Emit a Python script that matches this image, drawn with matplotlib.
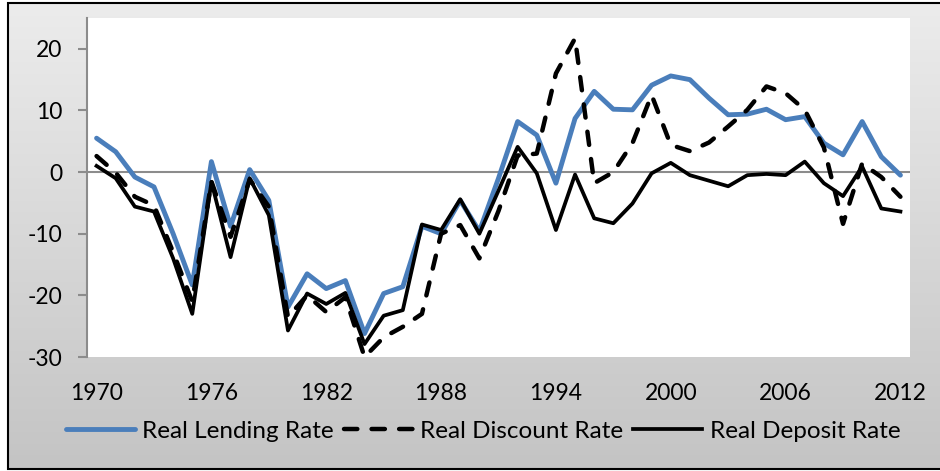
import numpy as np
import matplotlib
matplotlib.use("Agg")
import matplotlib.pyplot as plt

years = list(range(1970, 2013))

lending = [5.5, 3.3, -0.8, -2.4, -10.0, -18.3, 1.7, -8.8, 0.4, -4.6,
           -21.9, -16.5, -18.9, -17.6, -26.2, -19.7, -18.6, -8.8, -10.0, -4.6,
           -9.6, -1.0, 8.2, 6.0, -1.8, 8.7, 13.1, 10.2, 10.1, 14.1,
           15.6, 15.0, 12.0, 9.3, 9.4, 10.2, 8.5, 9.0, 4.7, 2.8,
           8.2, 2.5, -0.5]

discount = [2.6, -0.1, -4.0, -5.4, -13.0, -21.0, -1.5, -10.5, -1.2, -5.6,
            -23.5, -20.0, -22.7, -20.3, -30.0, -26.8, -25.1, -23.0, -10.0, -8.6,
            -14.0, -6.3, 2.7, 3.0, 16.0, 21.7, -1.8, 0.0, 4.7, 12.5,
            4.4, 3.4, 4.8, 7.4, 10.1, 13.9, 12.8, 10.1, 4.0, -8.4,
            1.4, -0.8, -4.0]

deposit = [1.0, -1.0, -5.6, -6.4, -14.0, -23.0, -1.6, -13.8, -1.0, -7.0,
           -25.7, -19.7, -21.4, -19.6, -27.9, -23.3, -22.4, -8.5, -9.4, -4.4,
           -10.0, -3.0, 4.1, -0.2, -9.4, -0.4, -7.5, -8.3, -5.1, -0.2,
           1.5, -0.5, -1.4, -2.3, -0.5, -0.3, -0.5, 1.7, -1.8, -3.9,
           0.9, -5.9, -6.4]

series_names = ["Real Lending Rate", "Real Discount Rate", "Real Deposit Rate"]
xtick_years = [1970, 1976, 1982, 1988, 1994, 2000, 2006, 2012]
yticks = [-30, -20, -10, 0, 10, 20]

plt.rcParams['font.family'] = ['Lato', 'DejaVu Sans']

W, H = 940, 471
fig = plt.figure(figsize=(W / 100, H / 100), dpi=100)

# background gradient and outer border (left, top, bottom)
bg = fig.add_axes([0, 0, 1, 1], zorder=-10)
bg.set_axis_off()
grad = np.linspace(236, 196, 256)[:, None] / 255.0
bg.imshow(np.repeat(grad[:, :, None], 3, axis=2), aspect='auto',
          extent=[9 / W, 1, 1 - 468 / H, 1 - 3 / H], origin='upper')
bg.set_xlim(0, 1)
bg.set_ylim(0, 1)
xl, yt, yb = 8 / W, 1 - 2.5 / H, 1 - 468.5 / H
bg.plot([1.0, xl, xl, 1.0], [yt, yt, yb, yb], color='black', linewidth=1.5,
        solid_joinstyle='miter')

ax = fig.add_axes([87 / W, 1 - 357 / H, 823 / W, 339 / H])
ax.set_facecolor('white')

x = np.arange(len(years))
ax.axhline(0, color='#8c8c8c', linewidth=1.5, zorder=1)
l1, = ax.plot(x, lending, color='#4a7ebb', linewidth=3.5, solid_capstyle='round',
              solid_joinstyle='round', zorder=3, label=series_names[0])
l2, = ax.plot(x, discount, color='black', linewidth=3.2, linestyle=(0, (3, 3.2)),
              dash_capstyle='round', dash_joinstyle='round', zorder=4,
              label=series_names[1])
l3, = ax.plot(x, deposit, color='black', linewidth=2.7, solid_joinstyle='round',
              zorder=5, label=series_names[2])

ax.set_xlim(-0.5, len(years) - 0.5)
ax.set_ylim(-30, 25)
ax.set_yticks(yticks)
ax.set_yticklabels([str(v) for v in yticks])
ax.set_xticks([years.index(y) for y in xtick_years])
ax.set_xticklabels([str(y) for y in xtick_years])

for s in ['top', 'right', 'bottom']:
    ax.spines[s].set_visible(False)
ax.spines['left'].set_color('#8c8c8c')
ax.spines['left'].set_linewidth(1.5)
ax.tick_params(axis='y', length=6.5, width=1.5, color='#8c8c8c', pad=11,
               labelsize=16.5, labelcolor='black')
ax.tick_params(axis='x', length=0, pad=19, labelsize=16.5, labelcolor='black')

leg = fig.legend(handles=[l1, l2, l3], loc='center', bbox_to_anchor=(0.514, 1 - 431 / H),
                 ncol=3, frameon=False, fontsize=17.5, handlelength=2.85,
                 handletextpad=0.3, columnspacing=0.4)

fig.savefig('out.png', dpi=100)
